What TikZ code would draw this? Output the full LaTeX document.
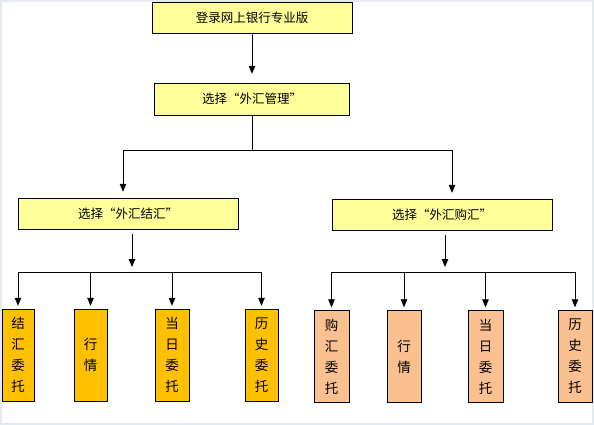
\documentclass[tikz,border=0pt]{standalone}
\usepackage{fontspec}
\setmainfont{Noto Sans CJK SC}
\usetikzlibrary{arrows.meta, positioning}

\definecolor{paleyellow}{HTML}{FFFF99}
\definecolor{goldbox}{HTML}{FFC000}
\definecolor{peachbox}{HTML}{FAC090}
\definecolor{framegray}{HTML}{E4EAF0}

\begin{document}
\begin{tikzpicture}[x=1pt, y=-1pt,
    stage/.style={rectangle, draw, fill=paleyellow, minimum height=31pt, inner sep=0pt, font=\fontsize{12.5}{14}\selectfont},
    sellleaf/.style={rectangle, draw, fill=goldbox, minimum width=33pt, minimum height=92pt, inner sep=0pt, align=center, font=\fontsize{13.5}{21}\selectfont},
    buyleaf/.style={sellleaf, fill=peachbox},
    line/.style={draw, line width=0.8pt, -{Triangle[length=8pt, width=6.5pt]}}
]
    \useasboundingbox (0,0) rectangle (594,425);
    \draw[framegray, line width=2pt] (1,1) rectangle (593,424);

    % Top steps
    \node [stage, minimum width=200pt] (login) at (252,18) {登录网上银行专业版};
    \node [stage, minimum width=195pt, minimum height=32pt] (menu) at (252,99) {选择“外汇管理”};

    % Branches
    \node [stage, minimum width=220pt] (sell) at (128,213.5) {选择“外汇结汇”};
    \node [stage, minimum width=220pt] (buy) at (442,214.5) {选择“外汇购汇”};

    % Sell leaves
    \node [sellleaf, minimum width=32pt] (s1) at (18,355) {结\\汇\\委\\托};
    \node [sellleaf] (s2) at (90.5,355) {行\\情};
    \node [sellleaf, minimum width=34pt] (s3) at (172,355) {当\\日\\委\\托};
    \node [sellleaf] (s4) at (261.5,355) {历\\史\\委\\托};

    % Buy leaves
    \node [buyleaf, minimum width=35pt] (b1) at (331.5,356.5) {购\\汇\\委\\托};
    \node [buyleaf, minimum width=34pt] (b2) at (404,356.5) {行\\情};
    \node [buyleaf, minimum width=35pt] (b3) at (485.5,356.5) {当\\日\\委\\托};
    \node [buyleaf, minimum width=34pt] (b4) at (575,356.5) {历\\史\\委\\托};

    % Bus points
    \coordinate (fork) at (252,150);
    \coordinate (forkL) at (123,150);
    \coordinate (forkR) at (452,150);
    \coordinate (sellbus) at (132,272);
    \coordinate (buybus) at (445,272);

    % Connections
    \path [line, shorten >=9pt] (login) -- (menu);
    \draw [line width=0.8pt] (menu) -- (fork);
    \draw [line width=0.8pt] (forkL) -- (forkR);
    \path [line, shorten >=6pt] (forkL) -- (forkL |- sell.north);
    \path [line, shorten >=6pt] (forkR) -- (forkR |- buy.north);

    \path [line, shorten <=5pt, shorten >=5pt] (sellbus |- sell.south) -- (sellbus);
    \path [line, shorten >=3pt] (sellbus) -| (s1);
    \path [line, shorten >=3pt] (sellbus) -| (s2);
    \path [line, shorten >=3pt] (sellbus) -| (s3);
    \path [line, shorten >=3pt] (sellbus) -| (s4);

    \path [line, shorten <=5pt, shorten >=5pt] (buybus |- buy.south) -- (buybus);
    \path [line, shorten >=3pt] (buybus) -| (b1);
    \path [line, shorten >=3pt] (buybus) -| (b2);
    \path [line, shorten >=3pt] (buybus) -| (b3);
    \path [line, shorten >=3pt] (buybus) -| (b4);
\end{tikzpicture}
\end{document}
